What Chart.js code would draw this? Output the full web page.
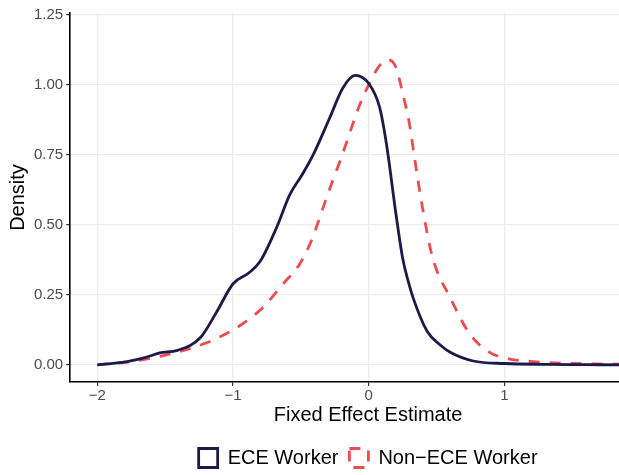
<!DOCTYPE html>
<html>
<head>
<meta charset="utf-8">
<script src="https://cdn.jsdelivr.net/npm/chart.js@4.4.0/dist/chart.umd.min.js"></script>
<style>
  html, body { margin: 0; padding: 0; background: #fff; overflow: hidden; }
</style>
</head>
<body>
<canvas id="densityChart" width="670" height="478"></canvas>
<script>
// density curves (x = fixed effect estimate, y = density)
const eceX = [-2.0, -1.9, -1.78, -1.65, -1.54, -1.41, -1.24, -1.12, -1.0, -0.88, -0.8, -0.68, -0.58, -0.49, -0.41, -0.29, -0.19, -0.1, 0.0, 0.08, 0.13, 0.2, 0.25, 0.29, 0.33, 0.43, 0.52, 0.6, 0.77, 1.0, 1.3, 1.6, 1.9, 2.19];
const eceY = [0.0, 0.005, 0.012, 0.026, 0.043, 0.052, 0.098, 0.19, 0.29, 0.33, 0.37, 0.49, 0.61, 0.68, 0.75, 0.88, 0.99, 1.034, 1.005, 0.92, 0.79, 0.54, 0.38, 0.3, 0.235, 0.12, 0.074, 0.045, 0.014, 0.005, 0.002, 0.001, 0.0, 0.0];

const nonEceX = [-2.0, -1.75, -1.5, -1.19, -1.0, -0.9, -0.78, -0.63, -0.51, -0.435, -0.38, -0.32, -0.265, -0.21, -0.16, -0.066, 0.02, 0.08, 0.14, 0.2, 0.25, 0.3, 0.34, 0.4, 0.47, 0.6, 0.745, 0.89, 1.04, 1.21, 1.5, 1.75, 2.0, 2.19];
const nonEceY = [0.0, 0.012, 0.035, 0.08, 0.125, 0.157, 0.205, 0.29, 0.36, 0.43, 0.5, 0.585, 0.66, 0.73, 0.8, 0.93, 1.02, 1.07, 1.09, 1.063, 0.97, 0.86, 0.73, 0.55, 0.384, 0.24, 0.11, 0.045, 0.021, 0.012, 0.005, 0.003, 0.002, 0.001];

const seriesLabels = ['ECE Worker', 'Non\u2212ECE Worker'];

function toPoints(xs, ys) {
    return xs.map((x, i) => ({ x: x, y: ys[i] }));
}

Chart.defaults.font.family = "'Liberation Sans', Arial, sans-serif";

const tickGrey = '#4d4d4d';

new Chart(document.getElementById('densityChart'), {
    type: 'line',
    data: {
        datasets: [{
            label: seriesLabels[0],
            data: toPoints(eceX, eceY),
            borderColor: '#1d1a4a',
            backgroundColor: 'transparent',
            borderWidth: 2.8,
            pointRadius: 0,
            cubicInterpolationMode: 'monotone'
        }, {
            label: seriesLabels[1],
            data: toPoints(nonEceX, nonEceY),
            borderColor: '#ec4b4f',
            backgroundColor: 'transparent',
            borderWidth: 2.8,
            borderDash: [11, 10],
            pointRadius: 0,
            cubicInterpolationMode: 'monotone'
        }]
    },
    options: {
        responsive: false,
        animation: false,
        layout: {
            padding: { top: 13, right: 4, bottom: 0, left: 0 }
        },
        plugins: {
            legend: {
                position: 'bottom',
                fullSize: false,
                labels: {
                    boxWidth: 19,
                    boxHeight: 19,
                    padding: 11,
                    color: '#000',
                    font: { size: 20 }
                }
            },
            tooltip: { enabled: false }
        },
        scales: {
            x: {
                type: 'linear',
                min: -2.2,
                max: 2.19,
                border: { color: '#000', width: 1.6 },
                grid: { color: '#ebebeb', lineWidth: 1.2, tickColor: '#333', tickLength: 4 },
                ticks: {
                    stepSize: 1,
                    includeBounds: false,
                    padding: 2,
                    color: tickGrey,
                    font: { size: 15, lineHeight: 1 },
                    callback: v => v < 0 ? '\u2212' + Math.abs(v) : String(v)
                },
                title: {
                    display: true,
                    text: 'Fixed Effect Estimate',
                    color: '#000',
                    font: { size: 20 },
                    padding: { top: -2, bottom: 10 }
                }
            },
            y: {
                min: -0.061,
                max: 1.257,
                border: { color: '#000', width: 1.6 },
                grid: { color: '#ebebeb', lineWidth: 1.2, tickColor: '#333', tickLength: 4 },
                ticks: {
                    stepSize: 0.25,
                    includeBounds: false,
                    padding: 3,
                    color: tickGrey,
                    font: { size: 15 },
                    callback: v => v.toFixed(2)
                },
                title: {
                    display: true,
                    text: 'Density',
                    color: '#000',
                    font: { size: 20 },
                    padding: { top: 6, bottom: 1 }
                }
            }
        }
    }
});
</script>
</body>
</html>
